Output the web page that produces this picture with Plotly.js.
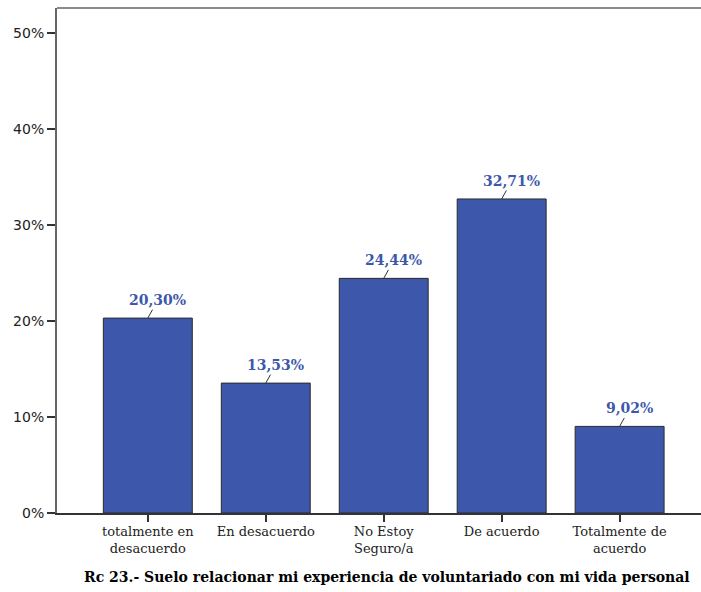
<!DOCTYPE html>
<html>
<head>
<meta charset="utf-8">
<script src="https://cdn.plot.ly/plotly-3.0.1.min.js"></script>
<style>html,body{margin:0;padding:0;background:#fff;}</style>
</head>
<body>
<div id="chart" style="width:701px;height:592px;"></div>
<script>
const categories = ["totalmente en<br>desacuerdo", "En desacuerdo", "No Estoy<br>Seguro/a", "De acuerdo", "Totalmente de<br>acuerdo"];
const values = [20.30, 13.53, 24.44, 32.71, 9.02];
const yTicks = [0, 10, 20, 30, 40, 50];
const chartTitle = "Rc 23.- Suelo relacionar mi experiencia de voluntariado con mi vida personal";

const idx = categories.map((c, i) => i);
const labels = values.map(v => v.toFixed(2).replace('.', ',') + '%');

const trace = {
  type: 'bar',
  x: idx,
  y: values,
  marker: {color: '#3d58aa', line: {color: '#2a2a2a', width: 1}},
  hoverinfo: 'skip'
};

const annotations = values.map((v, i) => ({
  x: i, y: v, xref: 'x', yref: 'y',
  text: '<b>' + labels[i] + '</b>',
  showarrow: true, arrowhead: 0, arrowwidth: 1, arrowcolor: '#333',
  ax: 10, ay: -18, standoff: 0,
  font: {family: 'DejaVu Serif, serif', size: 14, color: '#3d58aa'}
}));
annotations.push({
  xref: 'paper', yref: 'paper', x: 0.513, y: -0.127,
  xanchor: 'center', yanchor: 'middle', showarrow: false,
  text: '<b>' + chartTitle + '</b>',
  font: {family: 'DejaVu Serif, serif', size: 14, color: '#000'}
});

const layout = {
  width: 701, height: 592,
  margin: {l: 57, r: 0, t: 8, b: 79},
  paper_bgcolor: '#fff', plot_bgcolor: '#fff',
  showlegend: false,
  bargap: 0.246,
  xaxis: {
    range: [-0.77, 4.69],
    tickmode: 'array', tickvals: idx, ticktext: categories,
    ticks: 'outside', ticklen: 7, tickwidth: 2, tickcolor: '#333',
    ticklabelstandoff: -2,
    showline: true, linecolor: '#333', linewidth: 2,
    showgrid: false, zeroline: false,
    tickfont: {family: 'DejaVu Serif, serif', size: 13, color: '#222'}
  },
  yaxis: {
    range: [0, 52.6],
    tickmode: 'array', tickvals: yTicks, ticktext: yTicks.map(t => t + '%'),
    ticks: 'outside', ticklen: 8, tickwidth: 1.5, tickcolor: '#333',
    showline: true, linecolor: '#666', linewidth: 2,
    showgrid: false, zeroline: false,
    tickfont: {family: 'DejaVu Sans, sans-serif', size: 14, color: '#222'}
  },
  shapes: [{
    type: 'line', xref: 'paper', yref: 'paper', x0: 0, x1: 1, y0: 1, y1: 1,
    line: {color: '#8a8a8a', width: 2}
  }],
  annotations: annotations
};

Plotly.newPlot('chart', [trace], layout, {displayModeBar: false, staticPlot: true});
</script>
</body>
</html>
